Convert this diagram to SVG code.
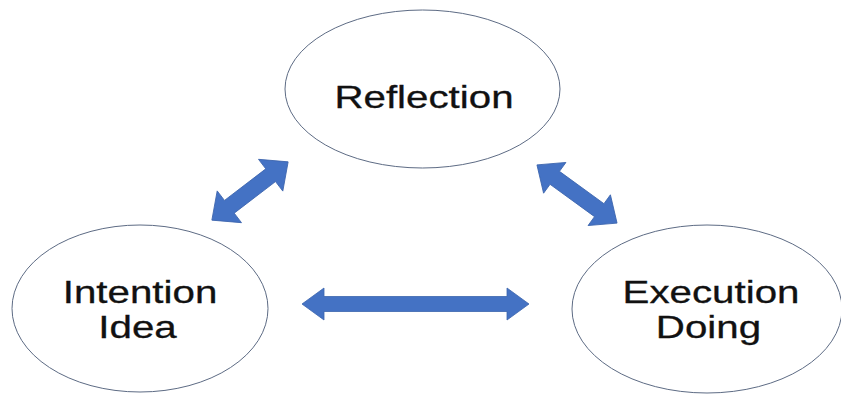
<svg xmlns="http://www.w3.org/2000/svg" width="841" height="394" viewBox="0 0 841 394">
  <style>
    .node { fill: #ffffff; stroke: #5d6b84; stroke-width: 1; }
    .label { font-family: "Liberation Sans", Arial, Helvetica, sans-serif; font-size: 32px; fill: #111111; stroke: #111111; stroke-width: 0.3; text-anchor: middle; }
    .arrow { fill: #4472c4; stroke: #3b64ad; stroke-width: 0.8; stroke-linejoin: miter; }
  </style>
  <rect width="841" height="394" fill="#ffffff"/>

  <!-- double-headed block arrows between the three stages -->
  <g id="connectors">
    <polygon class="arrow" transform="translate(250 191) rotate(-37.4)"
      points="-48,0 -26,-20 -26,-8 26,-8 26,-20 48,0 26,20 26,8 -26,8 -26,20"/>
    <polygon class="arrow" transform="translate(577 194) rotate(36)"
      points="-49.5,0 -27.5,-19 -27.5,-8 27.5,-8 27.5,-19 49.5,0 27.5,19 27.5,8 -27.5,8 -27.5,19"/>
    <polygon class="arrow" transform="translate(415.5 304)"
      points="-113.5,0 -91.5,-16 -91.5,-7.5 91.5,-7.5 91.5,-16 113.5,0 91.5,16 91.5,7.5 -91.5,7.5 -91.5,16"/>
  </g>

  <g id="reflection">
    <ellipse class="node" cx="422.5" cy="89" rx="137.5" ry="79"/>
    <text class="label" transform="translate(424 108) scale(1.26 1)">Reflection</text>
  </g>

  <g id="intention">
    <ellipse class="node" cx="140" cy="308.5" rx="128" ry="83.5"/>
    <text class="label" transform="translate(140 303) scale(1.26 1)">Intention</text>
    <text class="label" transform="translate(137.5 338) scale(1.26 1)">Idea</text>
  </g>

  <g id="execution">
    <ellipse class="node" cx="707" cy="309" rx="135" ry="84"/>
    <text class="label" transform="translate(711 303) scale(1.26 1)">Execution</text>
    <text class="label" transform="translate(708.5 338) scale(1.26 1)">Doing</text>
  </g>
</svg>
